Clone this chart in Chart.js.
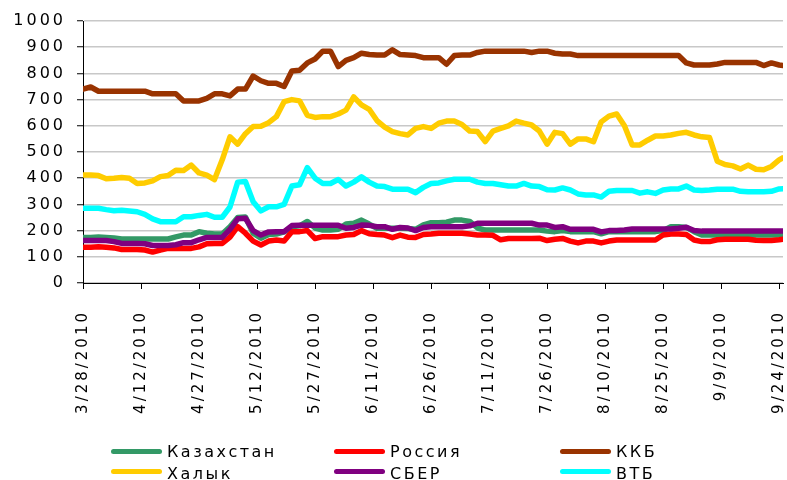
<!DOCTYPE html>
<html><head><meta charset="utf-8">
<script src="https://cdn.jsdelivr.net/npm/chart.js@4"></script>
<style>
body{margin:0;background:#fff}
#wrap{position:relative;width:787px;height:480px;overflow:hidden}
canvas{position:absolute;left:0;top:0}
.tx{position:absolute;height:20px;line-height:20px;font-family:'DejaVu Sans';font-size:16px;letter-spacing:2.5px;color:#000;white-space:nowrap}
.sw{position:absolute;width:51px;height:5px;border-radius:3px}
</style></head>
<body><div id="wrap"><canvas id="c" width="787" height="480"></canvas></div>
<script>
// day offsets from 3/28/2010
const days = [0,2,4,6,8,10,12,14,16,18,20,22,24,26,28,30,32,34,36,38,40,42,44,46,48,50,52,54,56,58,60,62,64,66,68,70,72,74,76,78,80,82,84,86,88,90,92,94,96,98,100,102,104,106,108,110,112,114,116,118,120,122,124,126,128,130,132,134,136,138,140,142,144,146,148,150,152,154,156,158,160,162,164,166,168,170,172,174,176,178,180,181];
const tickLabels = ['3/28/2010','4/12/2010','4/27/2010','5/12/2010','5/27/2010','6/11/2010','6/26/2010','7/11/2010','7/26/2010','8/10/2010','8/25/2010','9/9/2010','9/24/2010'];
const seriesNames = ['Казахстан','Россия','ККБ','Халык','СБЕР','ВТБ'];
const seriesColors = ['#339966','#FF0000','#993300','#FFCC00','#800080','#00FFFF'];

const kazakhstan = [174,174,176,174,172,168,168,168,168,168,
 168,168,176,183,183,196,190,187,187,215,
 250,252,190,171,185,187,195,215,218,235,
 210,202,202,205,225,228,240,225,209,209,
 209,209,208,205,222,230,230,232,240,240,
 235,210,202,202,202,202,202,202,202,202,
 198,196,200,196,196,196,196,188,196,196,
 196,196,196,196,196,200,215,215,212,196,
 183,183,183,183,183,183,183,183,183,183,
 183,183];
const russia = [136,136,138,136,134,128,128,128,126,118,
 126,132,132,132,132,138,150,151,151,175,
 215,190,160,145,160,164,160,196,196,200,
 170,177,177,177,183,185,200,188,185,183,
 173,183,175,174,185,187,190,190,190,190,
 187,183,183,182,165,170,170,170,170,171,
 162,167,170,160,153,160,160,153,160,164,
 164,164,164,164,164,183,187,187,185,164,
 158,158,165,167,167,167,167,163,162,162,
 165,167];
const kkb = [740,748,732,732,732,732,732,732,732,722,
 722,722,722,695,695,695,705,722,722,714,
 740,740,790,772,762,762,750,809,812,840,
 855,885,885,826,850,860,877,872,870,870,
 890,872,870,868,860,860,860,835,868,870,
 870,880,885,885,885,885,885,885,880,885,
 885,877,874,874,868,868,868,868,868,868,
 868,868,868,868,868,868,868,868,840,832,
 832,832,836,842,842,842,842,842,830,840,
 832,830];
const halyk = [412,412,410,398,400,403,400,380,382,390,
 406,410,430,429,450,420,412,395,470,558,
 530,570,597,598,612,635,692,700,695,640,
 632,635,635,645,660,710,680,663,620,595,
 578,570,565,590,597,590,610,618,618,605,
 580,578,540,580,590,600,618,610,603,580,
 530,575,570,530,550,550,539,615,637,645,
 600,527,527,545,561,561,565,571,575,565,
 558,555,465,452,447,435,450,434,432,445,
 470,478];
const sber = [162,162,162,162,158,151,151,151,150,143,
 143,143,146,154,154,165,174,174,174,205,
 245,247,200,183,195,196,196,219,220,220,
 220,220,220,220,209,212,221,220,215,215,
 205,212,210,200,212,215,215,215,215,215,
 218,228,228,228,228,228,228,228,228,221,
 221,212,215,205,205,205,205,195,200,200,
 202,206,206,206,206,206,206,209,213,200,
 198,198,198,198,198,198,198,198,198,198,
 198,198];
const vtb = [285,285,285,280,276,278,275,272,262,245,
 234,234,234,253,253,258,262,251,251,290,
 385,387,310,275,291,291,300,370,375,440,
 400,380,380,395,370,385,405,385,370,368,
 358,358,358,345,365,380,382,390,396,396,
 396,385,380,380,375,370,370,380,370,368,
 356,355,363,355,340,336,336,328,350,353,
 353,353,343,348,342,355,359,359,370,355,
 353,355,358,358,358,350,348,348,348,350,
 359,360];

const seriesValues = [kazakhstan, russia, kkb, halyk, sber, vtb];

const datasets = seriesValues.map((vals, i) => ({
  label: seriesNames[i],
  data: days.map((d, k) => ({x: d, y: vals[k]})),
  borderColor: seriesColors[i],
  backgroundColor: seriesColors[i],
  borderWidth: 5.5,
  pointRadius: 0,
  tension: 0,
  borderJoinStyle: 'round',
  borderCapStyle: 'round',
  fill: false,
  order: seriesValues.length - 1 - i
}));

const spacing = {
  id: 'spacing',
  beforeUpdate(c){ c.ctx.letterSpacing = '3px'; },
  beforeLayout(c){ c.ctx.letterSpacing = '3px'; },
  beforeDraw(c){ c.ctx.letterSpacing = '3px'; }
};

new Chart(document.getElementById('c'), {
  type: 'line',
  data: { datasets },
  plugins: [spacing],
  options: {
    responsive: false,
    devicePixelRatio: 1,
    animation: false,
    layout: { padding: { left: 0, right: 4, top: 21, bottom: 0 } },
    plugins: { legend: { display: false }, tooltip: { enabled: false } },
    scales: {
      x: {
        type: 'linear',
        min: 0, max: 181,
        afterFit(s){ s.height = 197; s.paddingLeft = 0; s.paddingRight = 0; },
        border: { display: true, color: '#000', width: 1 },
        grid: { display: true, drawOnChartArea: false, drawTicks: true, tickLength: 6, tickColor: '#000', tickWidth: 1 },
        ticks: {
          stepSize: 15, includeBounds: false, autoSkip: false,
          maxRotation: 90, minRotation: 90, padding: 21,
          color: '#000', font: { family: 'DejaVu Sans', size: 15 },
          callback: (v) => (v % 15 === 0 ? tickLabels[Math.round(v / 15)] : null)
        }
      },
      y: {
        min: 0, max: 1000,
        afterFit(s){ s.width = 83; },
        border: { display: true, color: '#000', width: 1 },
        grid: { color: '#c8c8c8', lineWidth: 1.5, tickLength: 6, tickColor: '#000', tickWidth: 1 },
        ticks: { stepSize: 100, padding: 11, color: '#000', font: { family: 'DejaVu Sans', size: 16 },
          callback: (v) => String(v) }
      }
    }
  }
});

// legend (HTML, real text)
const wrap = document.getElementById('wrap');
const colX = [111, 334, 560];
const rowCenter = [451.5, 471.5];
const rowBase = [457, 479];
seriesNames.forEach((name, i) => {
  const col = i % 3, row = Math.floor(i / 3);
  const sw = document.createElement('div');
  sw.className = 'sw';
  sw.style.left = colX[col] + 'px';
  sw.style.top = (rowCenter[row] - 2.5) + 'px';
  sw.style.background = seriesColors[i];
  wrap.appendChild(sw);
  const tx = document.createElement('div');
  tx.className = 'tx';
  tx.style.left = (colX[col] + 56) + 'px';
  tx.style.top = (rowBase[row] - 15.5) + 'px';
  tx.textContent = name;
  wrap.appendChild(tx);
});
</script></body></html>
